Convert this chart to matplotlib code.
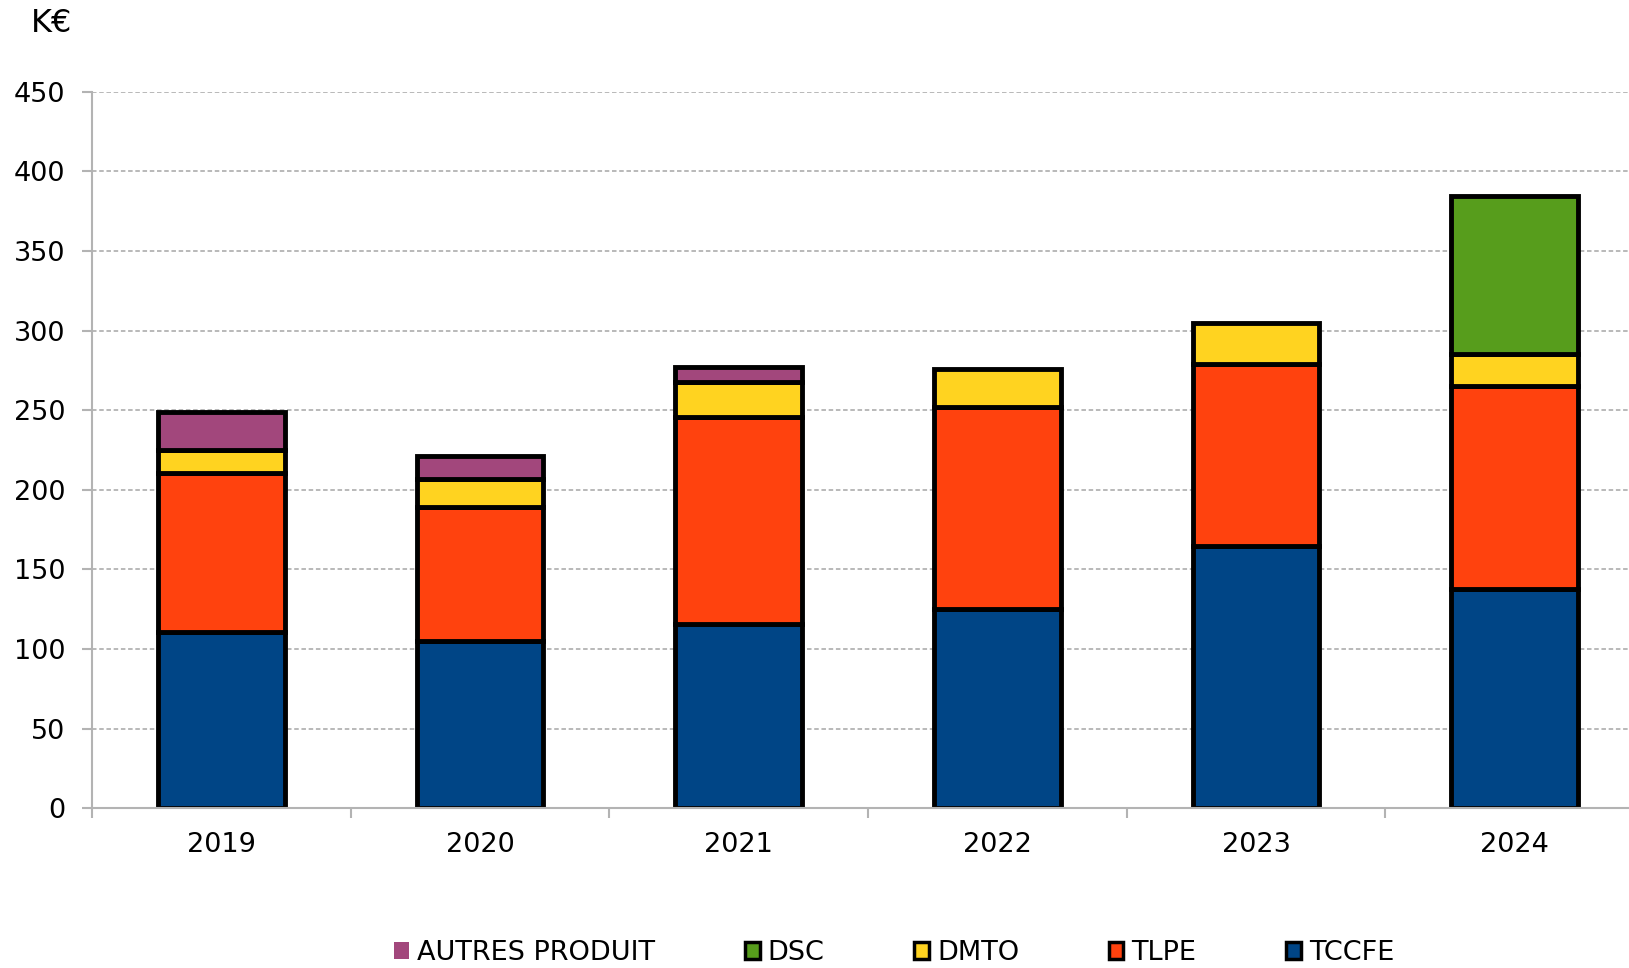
import matplotlib.pyplot as plt
import numpy as np
from matplotlib.patches import Patch
from matplotlib.ticker import FixedLocator

plt.rcParams['font.family'] = ['DejaVu Sans']

# valeurs en K€
years = ['2019', '2020', '2021', '2022', '2023', '2024']
tccfe = [111, 105, 116, 125, 165, 138]
tlpe = [99.5, 84, 130, 127, 114, 127]
dmto = [14.6, 18, 21.4, 24, 26, 20]
dsc = [0, 0, 0, 0, 0, 99.6]
autres = [24, 14, 10, 0, 0, 0]

series = [('TCCFE', tccfe, '#004586'),
          ('TLPE', tlpe, '#ff420e'),
          ('DMTO', dmto, '#ffd320'),
          ('DSC', dsc, '#579d1c'),
          ('AUTRES PRODUIT', autres, '#a2477c')]

fig = plt.figure(figsize=(16.29, 9.68), dpi=100)
ax = fig.add_axes([92 / 1629, 1 - 808.3 / 968, 1552 / 1629, (808.3 - 91.7) / 968])

x = np.arange(len(years))
bottom = np.zeros(len(years))
for name, vals, col in series:
    vals = np.array(vals, dtype=float)
    mask = vals > 0
    ax.bar(x[mask], vals[mask], 0.49, bottom=bottom[mask], color=col,
           edgecolor='black', linewidth=3.5, zorder=3)
    bottom += vals

ax.set_xlim(-0.5, 5.5)
ax.set_ylim(0, 450)
ax.set_yticks(np.arange(0, 451, 50))
ax.set_xticks(x)
ax.set_xticklabels(years)
ax.xaxis.set_minor_locator(FixedLocator(np.arange(-0.5, 6, 1)))
ax.tick_params(axis='x', which='major', length=0, pad=17, labelsize=19.5)
ax.tick_params(axis='x', which='minor', length=7, width=1.5, color='#b3b3b3')
ax.tick_params(axis='y', length=7, width=1.5, color='#b3b3b3', pad=12, labelsize=19.5)
ax.grid(axis='y', color='#b3b3b3', linestyle=(0, (2.5, 1.5)), linewidth=1.3, zorder=0)
for s in ['top', 'right']:
    ax.spines[s].set_visible(False)
for s in ['left', 'bottom']:
    ax.spines[s].set_color('#b3b3b3')
    ax.spines[s].set_linewidth(1.5)
    ax.spines[s].set_zorder(4)

fig.text(52 / 1629, 1 - 23 / 968, 'K€', fontsize=23, ha='center', va='center')

# legende dans l'ordre du graphique d'origine
handles = [Patch(facecolor='#a2477c', edgecolor='none', label='AUTRES PRODUIT'),
           Patch(facecolor='#579d1c', edgecolor='black', linewidth=2.5, label='DSC'),
           Patch(facecolor='#ffd320', edgecolor='black', linewidth=2.5, label='DMTO'),
           Patch(facecolor='#ff420e', edgecolor='black', linewidth=2.5, label='TLPE'),
           Patch(facecolor='#004586', edgecolor='black', linewidth=2.5, label='TCCFE')]
fig.legend(handles=handles, loc='center', bbox_to_anchor=(0.549, 1 - 953 / 968),
           ncol=5, frameon=False, fontsize=19.5, handlelength=0.55, handleheight=0.55,
           handletextpad=0.3, columnspacing=3.3, borderaxespad=0, borderpad=0)

plt.savefig('out.png', dpi=100)
